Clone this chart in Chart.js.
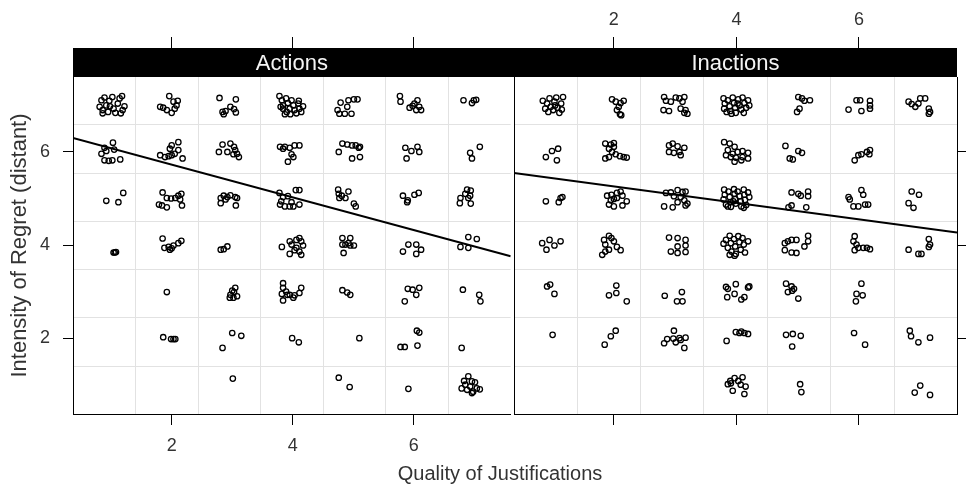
<!DOCTYPE html>
<html lang="en">
<head>
<meta charset="UTF-8" />
<title>Intensity of regret by quality of justifications</title>
<script src="https://cdn.jsdelivr.net/npm/chart.js@4.4.1/dist/chart.umd.min.js"></script>
<style>
  body { margin: 0; background: #fff; }
  #wrap { position: relative; width: 966px; height: 489px; overflow: hidden; }
  canvas { position: absolute; top: 0; }
  #left { left: 0; }
  #right { left: 500px; }
  #xtitle {
    position: absolute; top: 463px; left: 0; width: 1000px; text-align: center;
    font: 20px "Liberation Sans", Arial, sans-serif; line-height: 20px; color: #333;
  }
</style>
</head>
<body>
<div id="wrap">
  <canvas id="left" width="516" height="489"></canvas>
  <canvas id="right" width="466" height="489"></canvas>
  <div id="xtitle">Quality of Justifications</div>
</div>
<script>
// axis ranges and ticks (both panels share them)
const xRange = [0.37, 7.6];
const yRange = [0.37, 7.61];
const tickVals = [2, 4, 6];
const gridBreaks = [1.4, 2.44, 3.47, 4.51, 5.54, 6.58];
const panelNames = ['Actions', 'Inactions'];

// fitted lines, endpoints at the panel edges
const fitX = [0.37, 7.6];
const actionsFitY = [6.30, 3.76];
const inactionsFitY = [5.55, 4.27];

// jittered responses
const actionsPoints = [
  // regret 7
  [0.81,6.97],[0.84,7.11],[0.86,6.90],[0.89,7.17],[0.92,7.00],[0.95,6.86],[0.97,7.10],[1.02,7.18],[1.04,6.93],
  [1.07,6.84],[1.11,7.04],[1.14,7.15],[1.18,7.20],[1.19,6.90],[1.22,6.98],[1.16,6.83],[0.86,6.83],[0.98,6.98],
  [1.96,7.20],[1.81,6.97],[1.86,6.95],[1.92,6.90],[2.03,7.08],[2.10,7.10],[2.05,6.93],[2.00,6.84],[2.08,7.00],
  [2.79,7.16],[3.06,7.13],[2.84,6.86],[2.89,6.88],[2.97,6.97],[3.03,6.92],[3.06,6.85],[2.86,6.81],
  [3.78,7.20],[3.82,7.11],[3.84,7.00],[3.80,6.97],[3.89,7.15],[3.92,7.05],[3.95,6.93],[3.90,6.86],[3.98,7.11],
  [4.01,7.00],[4.03,6.90],[4.06,6.83],[4.09,7.04],[4.11,6.93],[4.14,6.86],[4.17,6.98],[3.87,6.81],[3.96,6.81],
  [4.10,7.10],[3.84,6.93],
  [4.79,7.06],[4.92,7.11],[5.01,7.13],[5.07,7.13],[4.90,6.97],[4.74,6.90],[4.77,6.82],[4.86,6.82],[4.97,6.82],
  [5.77,7.20],[5.78,7.08],[5.93,6.95],[6.01,7.04],[6.06,7.11],[6.09,6.97],[6.12,6.90],[6.04,6.90],[5.98,6.99],
  [6.82,7.11],[6.96,7.05],[6.99,7.11],[7.03,7.12],
  // regret 6
  [1.03,6.20],[0.89,6.09],[0.84,5.96],[0.89,5.82],[0.96,5.81],[1.02,5.82],[1.15,5.84],[0.92,6.02],[1.05,6.05],
  [2.11,6.21],[2.00,6.14],[1.97,6.07],[1.81,5.93],[1.89,5.89],[1.95,5.91],[2.00,5.93],[2.05,5.96],[2.11,6.04],[2.18,5.86],
  [2.84,6.16],[2.97,6.18],[3.03,6.11],[3.05,6.04],[3.08,5.96],[3.11,5.89],[2.78,6.00],[2.92,6.00],[3.02,5.95],
  [3.79,6.11],[3.87,6.11],[3.95,6.09],[4.03,6.14],[4.11,6.14],[3.98,5.95],[3.92,5.79],[4.01,5.89],[3.84,6.07],
  [4.82,6.18],[4.90,6.16],[4.98,6.14],[5.04,6.14],[5.11,6.11],[4.76,6.00],[4.98,5.86],[5.11,5.89],[5.09,6.09],
  [5.86,6.09],[5.96,6.02],[6.06,6.11],[6.09,6.00],[5.88,5.86],
  [7.09,6.11],[6.93,5.98],[6.96,5.86],
  // regret 5
  [0.92,4.95],[1.12,4.92],[1.20,5.12],
  [1.85,5.13],[1.92,5.01],[1.99,5.00],[2.06,5.01],[2.11,5.06],[2.16,5.10],[2.14,4.98],[2.17,4.85],[1.79,4.87],
  [1.92,4.81],[1.84,4.85],
  [2.81,5.01],[2.86,5.06],[2.92,5.03],[2.97,5.07],[3.05,5.03],[3.08,5.01],[2.81,4.90],[3.06,4.85],[2.89,4.98],
  [3.78,5.12],[3.84,5.03],[3.92,5.05],[4.05,5.18],[4.11,5.18],[3.79,4.87],[3.87,4.83],[3.95,4.83],[4.01,4.83],
  [4.11,4.87],[3.81,4.94],[3.98,4.92],
  [4.75,5.19],[4.76,5.10],[4.92,5.15],[4.77,5.01],[4.87,5.01],[5.01,4.89],[5.04,4.83],[4.81,5.06],
  [5.82,5.06],[6.01,5.08],[6.08,5.12],[5.89,4.92],[5.90,4.96],
  [6.88,5.19],[6.94,5.17],[6.85,5.10],[6.93,5.06],[6.77,5.01],[6.90,5.01],[6.76,4.90],[6.94,4.89],
  // regret 4
  [1.04,3.84],[1.06,3.84],[1.08,3.85],
  [1.85,4.14],[1.88,3.94],[1.95,3.96],[2.00,3.93],[2.03,3.99],[2.11,4.04],[2.16,4.09],[1.97,3.90],
  [2.81,3.90],[2.86,3.91],[2.92,3.97],
  [3.82,3.96],[3.95,4.08],[3.98,4.01],[4.06,4.11],[4.11,4.15],[4.14,4.08],[4.17,3.99],[4.11,3.86],[4.03,3.89],
  [3.95,3.81],[4.14,3.79],[4.06,3.94],
  [4.82,4.15],[4.95,4.15],[4.82,4.01],[4.87,4.01],[4.95,3.99],[5.01,3.99],[4.84,3.83],[4.92,4.04],
  [5.82,3.86],[5.91,4.01],[6.04,4.01],[6.04,3.81],[6.12,3.90],
  [6.90,4.17],[7.04,4.13],[6.77,3.96],[6.90,3.94],
  // regret 3
  [1.92,2.99],
  [2.97,2.93],[3.03,2.99],[3.05,3.08],[3.00,3.02],[3.08,2.90],[2.96,2.87],[3.02,2.87],
  [3.84,3.18],[3.84,3.08],[3.89,3.00],[3.82,2.95],[3.91,2.93],[4.01,2.87],[4.03,2.92],[4.11,2.97],[4.14,3.08],
  [3.84,2.81],[3.95,2.93],
  [4.82,3.03],[4.90,2.98],[4.95,2.93],
  [5.90,3.06],[5.98,3.04],[6.09,3.08],[6.04,2.93],[5.85,2.79],
  [6.81,3.04],[7.08,2.93],[7.10,2.79],
  // regret 2
  [1.86,2.02],[1.99,1.98],[2.03,1.98],[2.06,1.98],
  [3.00,2.11],[3.15,2.05],[2.84,1.79],
  [3.99,2.00],[4.10,1.91],
  [5.10,2.00],
  [6.05,2.16],[6.09,2.12],[5.78,1.81],[5.85,1.81],[6.06,1.84],
  [6.79,1.79],
  // regret 1
  [3.01,1.13],
  [4.76,1.15],[4.94,0.95],
  [5.91,0.91],
  [6.83,1.08],[6.90,1.18],[6.96,1.07],[7.01,1.05],[6.79,0.92],[6.88,0.89],[6.96,0.82],[7.04,0.92],[7.09,0.90],
  [6.93,0.96],[6.85,1.00],[6.98,0.85]
];

const inactionsPoints = [
  // regret 7
  [0.84,7.10],[0.88,6.93],[0.91,7.04],[0.95,7.15],[0.97,6.97],[1.01,6.90],[1.03,7.08],[1.06,7.17],[1.08,6.95],
  [1.11,6.84],[1.14,7.04],[1.17,7.18],[1.15,6.91],[0.93,6.86],[1.04,7.00],
  [1.97,7.13],[2.03,7.08],[2.11,7.05],[2.16,7.10],[2.08,6.97],[2.05,6.90],[2.10,6.81],[2.12,6.79],
  [2.82,7.18],[2.93,7.08],[2.85,7.10],[2.81,6.90],[2.90,6.88],[3.01,7.17],[3.07,7.15],[3.15,7.18],[3.12,7.08],
  [3.09,6.93],[3.17,6.90],[3.20,6.82],[3.15,6.84],
  [3.79,7.15],[3.81,7.04],[3.80,6.93],[3.86,7.11],[3.89,6.98],[3.90,6.88],[3.94,7.17],[3.96,7.05],[3.98,6.95],
  [3.99,6.84],[4.03,7.13],[4.05,7.00],[4.08,6.91],[4.10,7.17],[4.13,7.05],[4.16,6.95],[4.19,7.11],[4.21,7.00],
  [4.12,6.84],[3.92,6.82],[3.84,6.86],[4.02,7.04],
  [5.01,7.18],[5.07,7.15],[5.11,7.10],[5.20,7.11],[5.03,6.93],[4.99,6.86],
  [5.83,6.91],[5.96,7.11],[6.02,7.11],[6.04,6.88],[6.18,7.10],[6.18,7.00],[6.18,6.93],
  [6.81,7.08],[6.86,7.03],[6.92,6.97],[7.00,7.15],[7.08,7.15],[6.97,7.04],[7.14,6.93],[7.16,6.86],[7.14,6.82],
  // regret 6
  [0.89,5.89],[0.99,6.02],[1.09,6.07],[1.07,5.82],
  [1.86,6.18],[1.95,6.16],[2.00,6.19],[1.92,6.07],[1.97,6.00],[2.03,5.95],[2.10,5.91],[2.16,5.89],[2.21,5.88],
  [1.86,5.86],[1.92,5.89],[2.00,6.11],
  [2.90,6.14],[2.96,6.18],[3.04,6.12],[3.15,6.09],[2.90,6.00],[2.98,5.98],[3.07,6.00],[3.09,5.93],
  [3.80,6.21],[3.89,6.18],[3.97,6.11],[3.86,6.04],[3.94,5.96],[4.02,6.00],[4.10,6.02],[4.19,5.98],[3.83,5.93],
  [3.91,5.89],[3.99,5.88],[4.10,5.89],[4.19,5.86],[3.97,5.79],[4.08,5.82],
  [4.80,6.13],[5.01,6.02],[5.07,5.98],[4.87,5.86],[4.92,5.84],
  [5.93,5.82],[5.99,5.93],[6.04,5.95],[6.13,6.00],[6.18,6.04],[6.17,5.95],
  // regret 5
  [0.89,4.94],[1.10,4.92],[1.13,5.01],[1.16,5.03],
  [1.89,5.06],[1.96,5.08],[2.05,5.12],[2.11,5.15],[2.14,5.06],[2.00,4.99],[1.92,4.87],[2.00,4.83],[2.14,4.85],
  [2.21,4.94],[1.95,4.96],[2.05,5.01],
  [2.85,5.12],[2.93,5.13],[3.04,5.18],[3.12,5.14],[3.17,5.15],[2.98,5.05],[3.09,5.03],[3.15,4.96],[3.04,4.92],
  [2.82,4.83],[2.96,4.81],[3.17,4.85],[3.20,4.89],
  [3.80,5.19],[3.81,5.08],[3.79,4.98],[3.83,4.87],[3.87,5.15],[3.89,5.03],[3.90,4.92],[3.91,4.82],[3.96,5.20],
  [3.97,5.10],[3.98,4.99],[3.99,4.89],[4.02,5.15],[4.05,5.05],[4.07,4.94],[4.08,4.83],[4.12,5.19],[4.13,5.08],
  [4.14,4.97],[4.16,4.86],[4.19,5.13],[4.21,5.03],[4.12,4.80],[3.86,4.83],[3.95,4.94],
  [4.90,5.13],[5.01,5.10],[5.05,5.06],[5.17,5.15],[5.17,5.05],[4.90,4.85],[5.14,4.81],[4.85,4.81],
  [5.83,5.03],[5.85,4.98],[6.04,5.18],[6.07,5.08],[5.91,4.83],[5.99,4.83],[6.10,4.87],[6.15,4.87],
  [6.86,5.15],[6.98,5.08],[6.81,4.90],[6.89,4.80],
  // regret 4
  [0.83,4.04],[0.90,3.90],[0.95,4.11],[1.03,3.99],[1.13,4.08],
  [1.84,4.11],[1.92,4.20],[1.96,4.15],[1.86,4.01],[2.00,4.08],[2.05,3.96],[2.11,3.89],[1.86,3.86],[1.81,3.79],[1.92,3.90],
  [2.90,4.16],[3.04,4.15],[3.17,4.11],[3.04,3.97],[3.17,3.99],[2.93,3.86],[3.04,3.83],[3.17,3.85],
  [3.79,4.03],[3.83,4.11],[3.86,3.94],[3.89,4.20],[3.91,4.04],[3.92,3.86],[3.96,4.13],[3.98,3.97],[3.99,3.81],
  [4.03,4.19],[4.05,4.06],[4.07,3.90],[4.10,4.15],[4.12,4.01],[4.14,3.84],[4.19,4.08],[3.89,3.79],[3.97,3.77],
  [4.79,4.04],[4.84,4.08],[4.90,4.11],[4.98,4.11],[5.17,4.20],[5.17,4.08],[5.11,3.97],[4.79,3.89],[4.90,3.84],[4.98,3.83],
  [5.93,4.19],[5.91,4.08],[5.96,4.01],[5.99,3.94],[6.07,3.94],[6.13,3.94],[6.18,3.91],[5.93,3.89],
  [7.14,4.13],[7.16,4.01],[6.81,3.90],[6.97,3.81],[7.02,3.81],[7.14,3.96],
  // regret 3
  [0.91,3.11],[0.96,3.15],[1.03,2.95],
  [2.04,3.13],[2.04,2.97],[1.92,2.92],[2.21,2.79],
  [2.83,2.91],[3.11,2.99],[3.03,2.79],[3.12,2.79],
  [3.83,3.10],[3.86,3.06],[3.99,3.16],[4.19,3.09],[3.97,2.95],[3.85,2.88],[4.08,2.83],[4.13,2.88],[4.21,3.11],
  [4.81,3.17],[4.90,3.11],[4.94,3.06],[4.84,2.99],[4.91,3.02],[5.01,2.85],
  [6.04,3.17],[5.96,2.95],[6.06,2.92],[5.95,2.79],
  // regret 2
  [1.00,2.07],
  [2.03,2.16],[1.95,2.04],[1.85,1.86],
  [2.98,2.16],[2.87,1.98],[2.97,1.99],[3.07,2.00],[3.17,2.01],[2.82,1.89],[3.01,1.91],[3.09,1.96],[3.15,1.79],
  [3.84,1.94],[3.99,2.13],[4.08,2.14],[4.13,2.11],[4.19,2.09],[4.05,2.11],
  [4.81,2.07],[4.92,2.09],[5.05,2.05],[4.91,1.82],
  [5.92,2.11],[6.10,1.86],
  [6.83,2.16],[6.85,2.04],[6.97,1.91],[7.16,2.01],
  // regret 1
  [3.86,1.01],[3.90,1.08],[3.97,1.14],[4.03,1.08],[4.10,1.16],[4.07,1.00],[4.15,0.96],[3.94,0.87],[4.13,0.80],[3.91,1.03],
  [5.04,1.01],[5.06,0.84],
  [7.00,0.98],[6.91,0.83],[7.16,0.78]
];

// layout (pixels)
const stripTop = 48;
const fontFamily = '"Liberation Sans", Arial, sans-serif';
const textColor = '#333';
const gridColor = '#e2e2e2';

Chart.defaults.font.family = fontFamily;

function setTicks(vals) {
  return function (axis) { axis.ticks = vals.map(v => ({ value: v })); };
}
function fixWidth(w) { return function (axis) { axis.width = w; }; }
function fixHeight(h) { return function (axis) { axis.height = h; }; }

// black strip with the panel name, drawn over the long top tick marks
const stripPlugin = {
  id: 'strip',
  afterDraw(chart, args, opts) {
    const { ctx, chartArea } = chart;
    const left = opts.extendLeft ? chartArea.left - 2 : chartArea.left;
    const right = opts.extendRight ? chart.width : chartArea.right;
    ctx.save();
    ctx.fillStyle = '#000';
    ctx.fillRect(left, stripTop, right - left, chartArea.top - stripTop);
    ctx.fillStyle = '#f4f4f4';
    ctx.font = '22px ' + fontFamily;
    ctx.textAlign = 'center';
    ctx.textBaseline = 'middle';
    ctx.fillText(opts.text, (chartArea.left + chartArea.right) / 2, (stripTop + chartArea.top) / 2 + 1);
    ctx.restore();
  }
};

function gridAxis(position) {
  const horiz = position === 'bottom' || position === 'top';
  const range = horiz ? xRange : yRange;
  return {
    type: 'linear', position: position, min: range[0], max: range[1],
    afterBuildTicks: setTicks(gridBreaks),
    afterFit: horiz ? fixHeight(0) : fixWidth(0),
    grid: { color: gridColor, lineWidth: 1, drawTicks: false },
    border: { display: false },
    ticks: { display: false }
  };
}

function tickAxis(position, size, tickLen, labels, pad) {
  const horiz = position === 'bottom' || position === 'top';
  const range = horiz ? xRange : yRange;
  return {
    type: 'linear', position: position, min: range[0], max: range[1],
    afterBuildTicks: setTicks(tickVals),
    afterFit: horiz ? fixHeight(size) : fixWidth(size),
    grid: { drawOnChartArea: false, tickLength: tickLen, tickColor: '#000', tickWidth: 1 },
    border: { display: position !== 'top', color: '#000', width: 1 },
    ticks: { display: labels, color: textColor, font: { size: 18 }, padding: pad, maxRotation: 0 }
  };
}

function panelData(points, fitY) {
  return {
    datasets: [
      {
        type: 'line',
        data: fitX.map((x, i) => ({ x: x, y: fitY[i] })),
        borderColor: '#000', borderWidth: 2, pointRadius: 0, fill: false
      },
      {
        type: 'scatter',
        data: points.map(p => ({ x: p[0], y: p[1] })),
        pointRadius: 2.7, borderWidth: 1.3, borderColor: '#000',
        backgroundColor: 'rgba(0,0,0,0)'
      }
    ]
  };
}

const common = {
  responsive: false, animation: false, devicePixelRatio: 1, events: [],
  plugins: { legend: { display: false }, tooltip: { enabled: false } }
};

// left panel: Actions
const yLeft = tickAxis('left', 73, 10, true, 13);
yLeft.title = {
  display: true, text: 'Intensity of Regret (distant)', color: textColor,
  font: { size: 22 }, padding: { top: 7, bottom: 0 }
};
new Chart(document.getElementById('left'), {
  type: 'scatter',
  data: panelData(actionsPoints, actionsFitY),
  options: Object.assign({}, common, {
    layout: { padding: { left: 0, right: 2, top: 0, bottom: 0 } },
    plugins: Object.assign({}, common.plugins, { strip: { text: panelNames[0], extendRight: true } }),
    scales: {
      x: tickAxis('bottom', 75, 11, true, 10),
      xTop: tickAxis('top', 77, 40, false, 6),
      xGrid: gridAxis('bottom'),
      y: yLeft,
      yGrid: gridAxis('left')
    }
  }),
  plugins: [stripPlugin]
});

// right panel: Inactions
const yInner = tickAxis('left', 14, 0, false, 0);
yInner.grid.drawTicks = false;
new Chart(document.getElementById('right'), {
  type: 'scatter',
  data: panelData(inactionsPoints, inactionsFitY),
  options: Object.assign({}, common, {
    layout: { padding: 0 },
    plugins: Object.assign({}, common.plugins, { strip: { text: panelNames[1], extendLeft: true } }),
    scales: {
      x: tickAxis('bottom', 75, 11, false, 10),
      xTop: tickAxis('top', 77, 40, true, 6),
      xGrid: gridAxis('bottom'),
      y: yInner,
      yRight: tickAxis('right', 9, 9, false, 0),
      yGrid: gridAxis('left')
    }
  }),
  plugins: [stripPlugin]
});
</script>
</body>
</html>
